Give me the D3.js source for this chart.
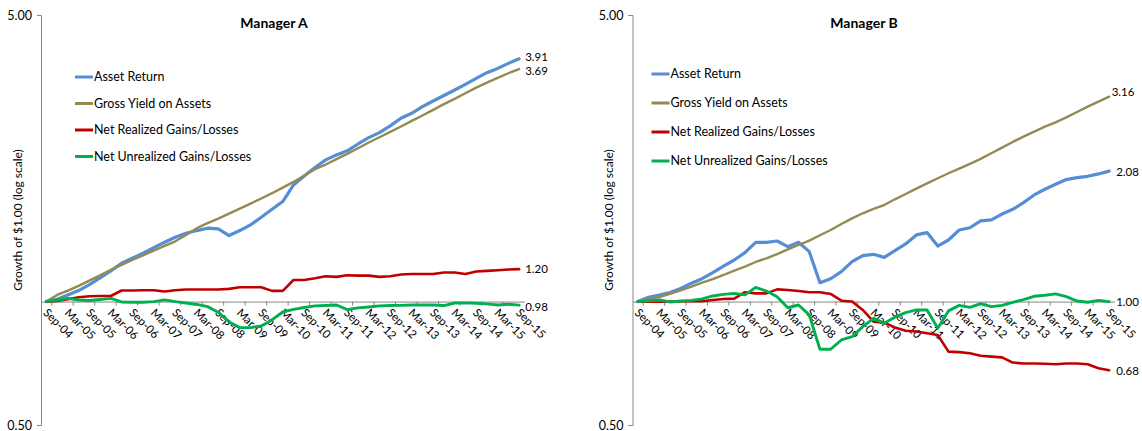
<!DOCTYPE html>
<html>
<head>
<meta charset="utf-8">
<script src="https://cdn.jsdelivr.net/npm/d3@7"></script>
<style>
  body { margin: 0; background: #fff; }
  svg { display: block; }
  text { font-family: Lato, "Open Sans", sans-serif; fill: #000; }
</style>
</head>
<body>
<svg id="chart" width="1142" height="431"></svg>
<script>
// Quarter-end dates, Sep-04 through Sep-15
const quarters = [
  "Sep-04","Dec-04","Mar-05","Jun-05","Sep-05","Dec-05","Mar-06","Jun-06","Sep-06","Dec-06",
  "Mar-07","Jun-07","Sep-07","Dec-07","Mar-08","Jun-08","Sep-08","Dec-08","Mar-09","Jun-09",
  "Sep-09","Dec-09","Mar-10","Jun-10","Sep-10","Dec-10","Mar-11","Jun-11","Sep-11","Dec-11",
  "Mar-12","Jun-12","Sep-12","Dec-12","Mar-13","Jun-13","Sep-13","Dec-13","Mar-14","Jun-14",
  "Sep-14","Dec-14","Mar-15","Jun-15","Sep-15"
];

const seriesNames = [
  "Asset Return",
  "Gross Yield on Assets",
  "Net Realized Gains/Losses",
  "Net Unrealized Gains/Losses"
];

// Growth of $1.00 — Manager A
const managerAAsset = [
  1.000, 1.013, 1.038, 1.064, 1.100, 1.142, 1.188, 1.240, 1.275, 1.312,
  1.354, 1.395, 1.435, 1.468, 1.490, 1.510, 1.504, 1.449, 1.490, 1.538,
  1.606, 1.680, 1.754, 1.925, 2.025, 2.123, 2.216, 2.279, 2.332, 2.423,
  2.511, 2.583, 2.683, 2.800, 2.879, 2.989, 3.085, 3.181, 3.282, 3.387,
  3.503, 3.617, 3.704, 3.810, 3.910
];
const managerAGross = [
  1.000, 1.038, 1.064, 1.092, 1.125, 1.159, 1.195, 1.229, 1.264, 1.297,
  1.331, 1.367, 1.403, 1.454, 1.510, 1.553, 1.594, 1.639, 1.686, 1.734,
  1.784, 1.838, 1.897, 1.958, 2.030, 2.103, 2.159, 2.225, 2.292, 2.366,
  2.443, 2.517, 2.594, 2.673, 2.759, 2.843, 2.935, 3.030, 3.121, 3.222,
  3.326, 3.421, 3.512, 3.605, 3.690
];
const managerARealized = [
  1.000, 1.004, 1.013, 1.025, 1.030, 1.032, 1.032, 1.064, 1.064, 1.066,
  1.066, 1.058, 1.066, 1.070, 1.070, 1.070, 1.070, 1.074, 1.084, 1.084,
  1.084, 1.062, 1.062, 1.129, 1.129, 1.140, 1.153, 1.149, 1.159, 1.157,
  1.157, 1.149, 1.153, 1.164, 1.168, 1.168, 1.168, 1.177, 1.177, 1.168,
  1.184, 1.188, 1.192, 1.197, 1.200
];
const managerAUnrealized = [
  1.000, 1.009, 1.018, 1.009, 1.006, 1.012, 1.018, 0.998, 0.996, 0.996,
  1.000, 1.010, 1.000, 0.992, 0.984, 0.972, 0.942, 0.892, 0.864, 0.864,
  0.872, 0.902, 0.943, 0.957, 0.967, 0.976, 0.978, 0.981, 0.956, 0.965,
  0.970, 0.976, 0.978, 0.979, 0.981, 0.981, 0.981, 0.978, 0.992, 0.993,
  0.991, 0.987, 0.981, 0.985, 0.980
];

// Growth of $1.00 — Manager B
const managerBAsset = [
  1.000, 1.024, 1.038, 1.052, 1.077, 1.108, 1.137, 1.176, 1.221, 1.263,
  1.316, 1.395, 1.395, 1.405, 1.361, 1.395, 1.324, 1.112, 1.137, 1.183,
  1.251, 1.294, 1.304, 1.282, 1.331, 1.382, 1.454, 1.473, 1.366, 1.413,
  1.495, 1.514, 1.573, 1.582, 1.635, 1.679, 1.743, 1.820, 1.879, 1.932,
  1.984, 2.006, 2.021, 2.048, 2.080
];
const managerBGross = [
  1.000, 1.015, 1.026, 1.045, 1.065, 1.087, 1.112, 1.135, 1.161, 1.190,
  1.217, 1.249, 1.275, 1.306, 1.341, 1.374, 1.408, 1.451, 1.495, 1.546,
  1.596, 1.642, 1.682, 1.720, 1.776, 1.830, 1.886, 1.943, 1.999, 2.056,
  2.110, 2.166, 2.228, 2.300, 2.374, 2.451, 2.526, 2.597, 2.671, 2.737,
  2.814, 2.900, 2.988, 3.073, 3.160
];
const managerBRealized = [
  1.000, 1.000, 1.000, 1.000, 1.002, 1.002, 1.002, 1.009, 1.015, 1.017,
  1.054, 1.047, 1.047, 1.071, 1.067, 1.061, 1.054, 1.054, 1.044, 1.005,
  1.000, 0.954, 0.893, 0.888, 0.865, 0.849, 0.845, 0.837, 0.829, 0.755,
  0.753, 0.748, 0.738, 0.734, 0.731, 0.710, 0.706, 0.706, 0.705, 0.703,
  0.706, 0.706, 0.703, 0.688, 0.680
];
const managerBUnrealized = [
  1.000, 1.005, 1.009, 0.998, 1.003, 1.007, 1.015, 1.032, 1.041, 1.047,
  1.038, 1.083, 1.061, 1.028, 0.966, 0.981, 0.928, 0.765, 0.765, 0.806,
  0.821, 0.869, 0.910, 0.885, 0.916, 0.940, 0.954, 0.954, 0.861, 0.949,
  0.979, 0.968, 0.988, 0.972, 0.979, 0.996, 1.011, 1.030, 1.036, 1.044,
  1.028, 1.003, 0.996, 1.007, 1.000
];

const yTickValues = [0.5, 5];
const xLabelEvery = 2;

// Look of each series, in drawing order
const seriesStyle = [
  { color: "#558ED5", width: 3.2 },
  { color: "#948A54", width: 2.4 },
  { color: "#C00000", width: 2.6 },
  { color: "#00B050", width: 2.9 }
];

// Panel geometry
const panels = [
  {
    title: "Manager A",
    series: [managerAAsset, managerAGross, managerARealized, managerAUnrealized],
    left: 41, right: 524.5, top: 15, bottom: 425,
    titleX: 274, titleY: 23,
    yTitleX: 18,
    legendX: 75, legendY: 77, legendStep: 26.5, legendLine: 18,
    labelNudge: [[0, -2], [0, 2], [0, 0], [0, 1.5]]
  },
  {
    title: "Manager B",
    series: [managerBAsset, managerBGross, managerBRealized, managerBUnrealized],
    left: 632.5, right: 1114.5, top: 15, bottom: 425,
    titleX: 864, titleY: 23,
    yTitleX: 609,
    legendX: 651.5, legendY: 74, legendStep: 29, legendLine: 18,
    labelNudge: [[1, 1], [-3.5, -4.5], [1, 1], [1, 0.5]]
  }
];

const svg = d3.select("#chart");
const axisColor = "#868686";
const fmt = d3.format(".2f");

panels.forEach(p => {
  const g = svg.append("g");

  const x = d3.scaleBand().domain(quarters).range([p.left, p.right]);
  const cx = d => x(d) + x.bandwidth() / 2;
  const y = d3.scaleLog().domain([0.5, 5]).range([p.bottom, p.top]);
  const y1 = y(1);

  // Value axis (log scale)
  const yAxis = g.append("g")
    .attr("transform", `translate(${p.left},0)`)
    .call(d3.axisLeft(y).tickValues(yTickValues).tickFormat(fmt).tickSize(4).tickPadding(5));
  yAxis.select(".domain").attr("stroke", axisColor);
  yAxis.selectAll(".tick line").attr("stroke", axisColor);
  yAxis.selectAll(".tick text")
    .attr("font-family", "Lato, 'Open Sans', sans-serif")
    .attr("font-size", 12.5).attr("fill", "#000");

  // Category axis crossing at 1.00
  const xAxis = g.append("g")
    .attr("transform", `translate(0,${y1})`)
    .call(d3.axisBottom(x)
      .tickValues(quarters.filter((q, i) => i % xLabelEvery === 0))
      .tickSize(0).tickSizeOuter(0).tickFormat(""));
  xAxis.select(".domain").attr("stroke", axisColor);

  // Tick marks between every other pair of categories
  g.append("g").selectAll("line")
    .data(quarters.filter((q, i) => i % xLabelEvery === 1))
    .join("line")
    .attr("x1", d => x(d)).attr("x2", d => x(d))
    .attr("y1", y1).attr("y2", y1 + 4)
    .attr("stroke", axisColor);

  g.append("g").selectAll("text")
    .data(quarters.filter((q, i) => i % xLabelEvery === 0))
    .join("text")
    .attr("transform", d => `translate(${cx(d) - 1},${y1 + 9}) rotate(45)`)
    .attr("dy", "0.35em")
    .attr("font-size", 11.5)
    .text(d => d);

  // Series lines
  const line = d3.line()
    .x((v, i) => cx(quarters[i]))
    .y(v => y(v));

  p.series.forEach((s, k) => {
    g.append("path")
      .datum(s)
      .attr("d", line)
      .attr("fill", "none")
      .attr("stroke", seriesStyle[k].color)
      .attr("stroke-width", seriesStyle[k].width)
      .attr("stroke-linejoin", "round")
      .attr("stroke-linecap", "round");
  });

  // Ending values
  p.series.forEach((s, k) => {
    const last = s[s.length - 1];
    g.append("text")
      .attr("x", cx(quarters[quarters.length - 1]) + 6 + p.labelNudge[k][0])
      .attr("y", y(last) + p.labelNudge[k][1])
      .attr("dy", "0.35em")
      .attr("font-size", 11.5)
      .text(fmt(last));
  });

  // Legend
  seriesNames.forEach((name, k) => {
    const ly = p.legendY + k * p.legendStep;
    g.append("line")
      .attr("x1", p.legendX).attr("x2", p.legendX + p.legendLine)
      .attr("y1", ly).attr("y2", ly)
      .attr("stroke", seriesStyle[k].color)
      .attr("stroke-width", 3);
    g.append("text")
      .attr("x", p.legendX + p.legendLine + 1)
      .attr("y", ly)
      .attr("dy", "0.35em")
      .attr("font-size", 12.5)
      .text(name);
  });

  // Titles
  g.append("text")
    .attr("x", p.titleX).attr("y", p.titleY)
    .attr("dy", "0.35em")
    .attr("text-anchor", "middle")
    .attr("font-size", 14)
    .attr("font-weight", "bold")
    .text(p.title);

  g.append("text")
    .attr("transform", `translate(${p.yTitleX},${(p.top + p.bottom) / 2}) rotate(-90)`)
    .attr("dy", "0.35em")
    .attr("text-anchor", "middle")
    .attr("font-size", 12)
    .text("Growth of $1.00 (log scale)");
});
</script>
</body>
</html>
